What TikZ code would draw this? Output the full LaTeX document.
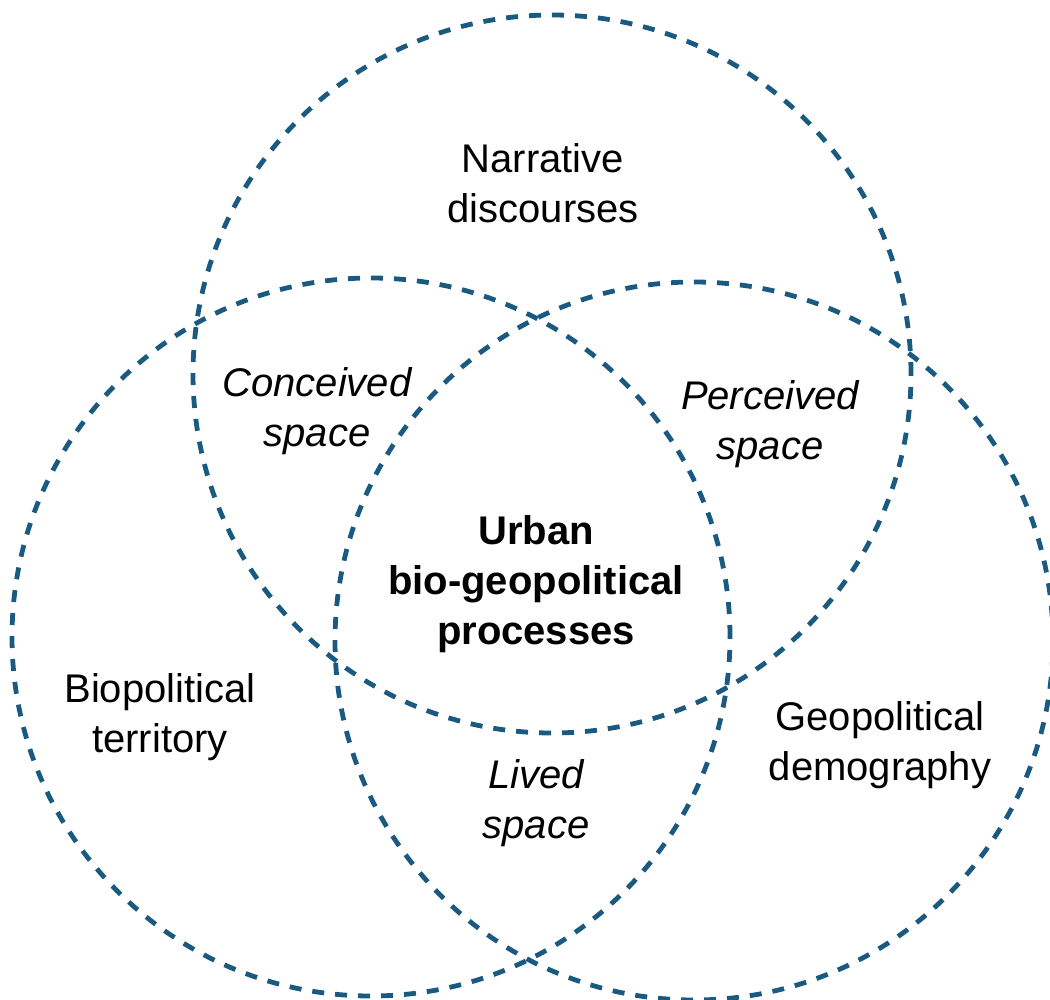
\documentclass[tikz,border=0pt]{standalone}
\usepackage{fontspec}
\setmainfont{Liberation Sans}
\definecolor{ringblue}{RGB}{26,90,128}
\begin{document}
\begin{tikzpicture}[x=1pt,y=-1pt,
  every node/.style={font=\fontsize{40}{50}\selectfont, align=center}
]

\tikzstyle{ring}=[draw=ringblue,circle,line width=4.8pt,dash pattern=on 12pt off 11pt,minimum size=718pt,inner sep=0pt]
\tikzstyle{label}=[inner sep=0pt]
\tikzstyle{space}=[label,font=\fontsize{40}{50}\selectfont\itshape]

\useasboundingbox (0,0) rectangle (1050,1000);

% the three circles
\node [ring] (narr) at (552,374) {};
\node [ring] (bio) at (371,637) {};
\node [ring] (geo) at (694,641) {};

% outer labels
\node [label] (narrlbl) at (543,183) {Narrative\\discourses};
\node [label] (biolbl) at (160,717) {Biopolitical\\territory};
\node [label] (geolbl) at (880,745) {Geopolitical\\demography};

% overlaps
\node [space] (conceived) at (317,411) {Conceived\\space};
\node [space] (perceived) at (770,424) {Perceived\\space};
\node [space] (lived) at (536,803) {Lived\\space};

\node [label,font=\fontsize{40}{50}\selectfont\bfseries] (urban) at (536,584) {Urban\\bio-geopolitical\\processes};
\end{tikzpicture}
\end{document}
